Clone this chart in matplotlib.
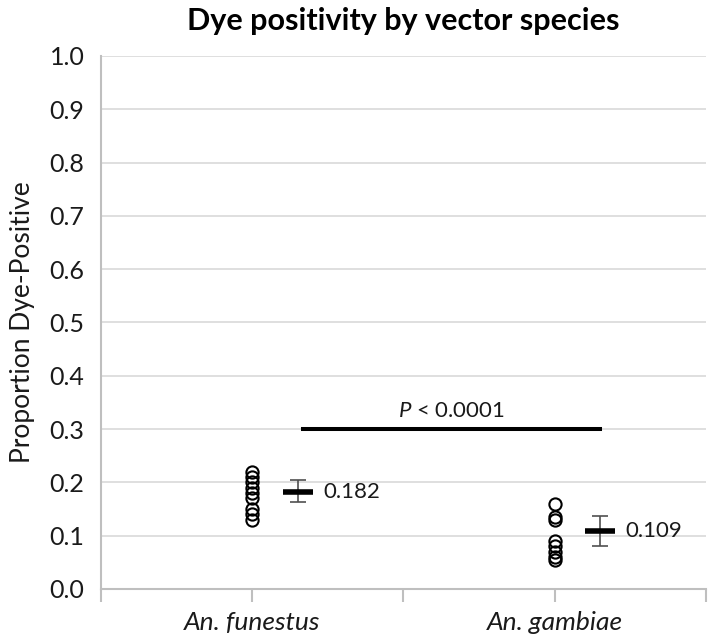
import numpy as np
import matplotlib
matplotlib.use("Agg")
import matplotlib.pyplot as plt

plt.rcParams['font.family'] = ['Lato', 'DejaVu Sans']
plt.rcParams['mathtext.fontset'] = 'custom'
plt.rcParams['mathtext.rm'] = 'Lato'
plt.rcParams['mathtext.it'] = 'Lato:italic'

species = ['An. funestus', 'An. gambiae']
positions = [1, 3]
mean_offset = 0.3

funestus = [0.22, 0.21, 0.20, 0.19, 0.18, 0.17, 0.15, 0.14, 0.13]
gambiae = [0.16, 0.135, 0.13, 0.09, 0.08, 0.07, 0.06, 0.055]
means = [0.182, 0.109]
ci_low = [0.164, 0.081]
ci_high = [0.204, 0.137]
mean_labels = ['0.182', '0.109']

p_text = r'$\it{P}$ < 0.0001'
p_level = 0.30
p_span = [1.335, 3.30]

fig = plt.figure(figsize=(7.08, 6.42), dpi=100)
ax = fig.add_axes([0.1427, 0.0826, 0.854, 0.8302])

grid_col = '#d9d9d9'
spine_col = '#bfbfbf'
text_col = '#1a1a1a'

for pos, vals in zip(positions, [funestus, gambiae]):
    ax.plot([pos] * len(vals), vals, linestyle='none', marker='o',
            markersize=8.8, markerfacecolor='none', markeredgecolor='black',
            markeredgewidth=1.5, zorder=4)

mx = [p + mean_offset for p in positions]
means_arr = np.array(means)
yerr = [means_arr - np.array(ci_low), np.array(ci_high) - means_arr]
ax.errorbar(mx, means, yerr=yerr, fmt='none', ecolor='#505050',
            elinewidth=1.2, capsize=6, capthick=1.2, zorder=3)
ax.plot(mx, means, linestyle='none', marker='_', markersize=22,
        markeredgewidth=4, color='black', zorder=5)

for x, m, lab in zip(mx, means, mean_labels):
    ax.text(x + 0.17, m, lab, fontsize=16, va='center', ha='left', color=text_col)

ax.plot(p_span, [p_level, p_level], color='black', linewidth=2.9, zorder=3)
ax.text(np.mean(p_span), p_level + 0.016, p_text, fontsize=16, ha='center',
        va='bottom', color=text_col)

ax.set_xlim(0, 4)
ax.set_ylim(0, 1.0)
ax.set_yticks(np.arange(0, 1.01, 0.1))
ax.set_yticklabels([f'{v:.1f}' for v in np.arange(0, 1.01, 0.1)])
ax.set_xticks([0, 1, 2, 3, 4])
ax.set_xticklabels(['', species[0], '', species[1], ''], fontstyle='italic')
ax.tick_params(axis='y', length=0, labelsize=18, pad=12, labelcolor=text_col)
ax.tick_params(axis='x', length=9, width=1.5, color=spine_col, labelsize=19,
               pad=7, labelcolor=text_col)

ax.yaxis.grid(True, color=grid_col, linewidth=1.2)
ax.set_axisbelow(True)
for s in ['top', 'right']:
    ax.spines[s].set_visible(False)
for s in ['left', 'bottom']:
    ax.spines[s].set_color(spine_col)
    ax.spines[s].set_linewidth(1.5)

ax.set_ylabel('Proportion Dye-Positive', fontsize=19, color=text_col, labelpad=10)
ax.set_title('Dye positivity by vector species', fontsize=22, fontweight='bold',
             pad=19)

fig.savefig('out.png', dpi=100)
